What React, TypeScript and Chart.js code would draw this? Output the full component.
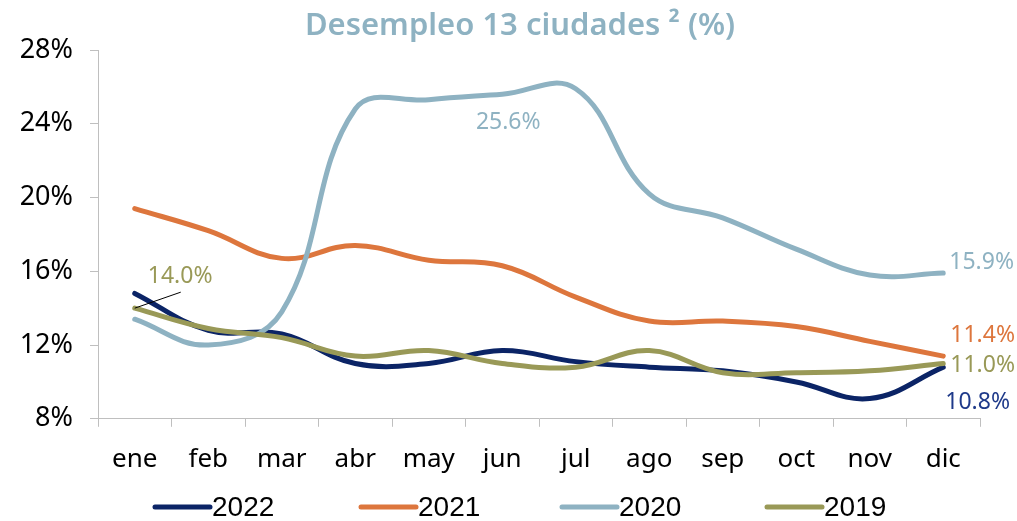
import React, { useEffect, useRef } from "react";
import { Chart, registerables } from "chart.js";

Chart.register(...registerables);

const months = ["ene", "feb", "mar", "abr", "may", "jun", "jul", "ago", "sep", "oct", "nov", "dic"];
const s2022 = [14.8, 12.8, 12.6, 11.0, 11.0, 11.7, 11.1, 10.8, 10.6, 10.0, 9.1, 10.8];
const s2021 = [19.4, 18.2, 16.7, 17.4, 16.6, 16.3, 14.6, 13.3, 13.3, 13.0, 12.2, 11.4];
const s2020 = [13.4, 12.0, 13.8, 24.8, 25.3, 25.6, 25.9, 20.2, 18.9, 17.2, 15.8, 15.9];
const s2019 = [14.0, 12.9, 12.4, 11.4, 11.7, 11.0, 10.8, 11.7, 10.5, 10.5, 10.6, 11.0];
const seriesNames = ["2022", "2021", "2020", "2019"];
const colors = ["#0b2466", "#dd763d", "#8eb2c2", "#999957"];
const yMin = 8;
const yMax = 28;
const yStep = 4;
const titleText = "Desempleo 13 ciudades ² (%)";

const tickFont = "'Noto Sans', sans-serif";

const overlayPlugin = {
  id: "overlay",
  afterDraw(chart: any) {
    const ctx = chart.ctx;
    const x = chart.scales.x;
    const y = chart.scales.y;
    ctx.save();
    // title
    ctx.fillStyle = colors[2];
    ctx.font = "600 31px 'Noto Sans', sans-serif";
    ctx.textAlign = "center";
    ctx.textBaseline = "middle";
    ctx.fillText(titleText, 520, 26);

    // data labels
    ctx.font = "23px 'Noto Sans', sans-serif";
    ctx.textBaseline = "middle";
    const last = months.length - 1;
    const xl = x.getPixelForValue(last);
    ctx.textAlign = "left";
    ctx.fillStyle = colors[2];
    ctx.fillText(s2020[last].toFixed(1) + "%", xl + 6, y.getPixelForValue(s2020[last]) - 11);
    ctx.fillStyle = colors[1];
    ctx.fillText(s2021[last].toFixed(1) + "%", xl + 7, y.getPixelForValue(s2021[last]) - 21);
    ctx.fillStyle = colors[3];
    ctx.fillText(s2019[last].toFixed(1) + "%", xl + 7, y.getPixelForValue(s2019[last]) + 2);
    ctx.fillStyle = "#1f3a8a";
    ctx.fillText(s2022[last].toFixed(1) + "%", xl + 2, y.getPixelForValue(s2022[last]) + 35);

    // peak 2020 label (jun)
    ctx.textAlign = "center";
    ctx.fillStyle = colors[2];
    ctx.fillText(s2020[5].toFixed(1) + "%", x.getPixelForValue(5) + 6, y.getPixelForValue(s2020[5]) + 28);

    // 2019 ene label with leader line
    const x0 = x.getPixelForValue(0);
    const y0 = y.getPixelForValue(s2019[0]);
    ctx.strokeStyle = "#000";
    ctx.lineWidth = 1;
    ctx.beginPath();
    ctx.moveTo(x0, y0);
    ctx.lineTo(x0 + 46, y0 - 16);
    ctx.stroke();
    ctx.textAlign = "left";
    ctx.fillStyle = colors[3];
    ctx.fillText(s2019[0].toFixed(1) + "%", x0 + 13, y0 - 32);

    // legend
    const legendX = [155, 361, 562, 767];
    const ly = 507;
    seriesNames.forEach((n, i) => {
      ctx.strokeStyle = colors[i];
      ctx.lineWidth = 5;
      ctx.lineCap = "round";
      ctx.beginPath();
      ctx.moveTo(legendX[i], ly);
      ctx.lineTo(legendX[i] + 55, ly);
      ctx.stroke();
      ctx.fillStyle = "#000";
      ctx.font = "28px 'Liberation Sans Narrow', 'Liberation Sans', sans-serif";
      ctx.textAlign = "left";
      ctx.fillText(n, legendX[i] + 57, ly + 1);
    });
    ctx.restore();
  },
};

export default function App() {
  const ref = useRef<HTMLCanvasElement>(null);
  useEffect(() => {
    const series = [s2022, s2021, s2020, s2019];
    const chart = new Chart(ref.current as HTMLCanvasElement, {
      type: "line",
      data: {
        labels: months,
        datasets: series.map((d, i) => ({
          label: seriesNames[i],
          data: d,
          borderColor: colors[i],
          backgroundColor: colors[i],
          borderWidth: 5,
          pointRadius: 0,
          tension: 0.4,
          fill: false,
          order: 4 - i,
          borderCapStyle: "round" as const,
        })),
      },
      options: {
        responsive: false,
        animation: false,
        layout: { padding: { top: 50, right: 37, bottom: 29, left: 0 } },
        plugins: {
          legend: { display: false },
          title: { display: false },
          tooltip: { enabled: false },
        },
        scales: {
          x: {
            offset: true,
            grid: { drawOnChartArea: false, tickLength: 8, color: "#bfbfbf", offset: true },
            border: { color: "#bfbfbf", width: 1 },
            ticks: { color: "#000", font: { family: tickFont, size: 26 }, padding: 17, maxRotation: 0 },
          },
          y: {
            min: yMin,
            max: yMax,
            afterFit(scale: any) {
              scale.width = 98;
            },
            grid: { drawOnChartArea: false, tickLength: 8, color: "#bfbfbf" },
            border: { color: "#bfbfbf", width: 1 },
            ticks: {
              stepSize: yStep,
              color: "#000",
              font: { family: tickFont, size: 27 },
              padding: 17,
              callback: (v: any) => v + "%",
            },
          },
        },
      },
      plugins: [overlayPlugin],
    });
    return () => chart.destroy();
  }, []);
  return (
    <div style={{ position: "absolute", left: 0, top: 0, width: 1017, height: 521, background: "#fff" }}>
      <canvas ref={ref} width={1017} height={521} style={{ display: "block" }} />
    </div>
  );
}
